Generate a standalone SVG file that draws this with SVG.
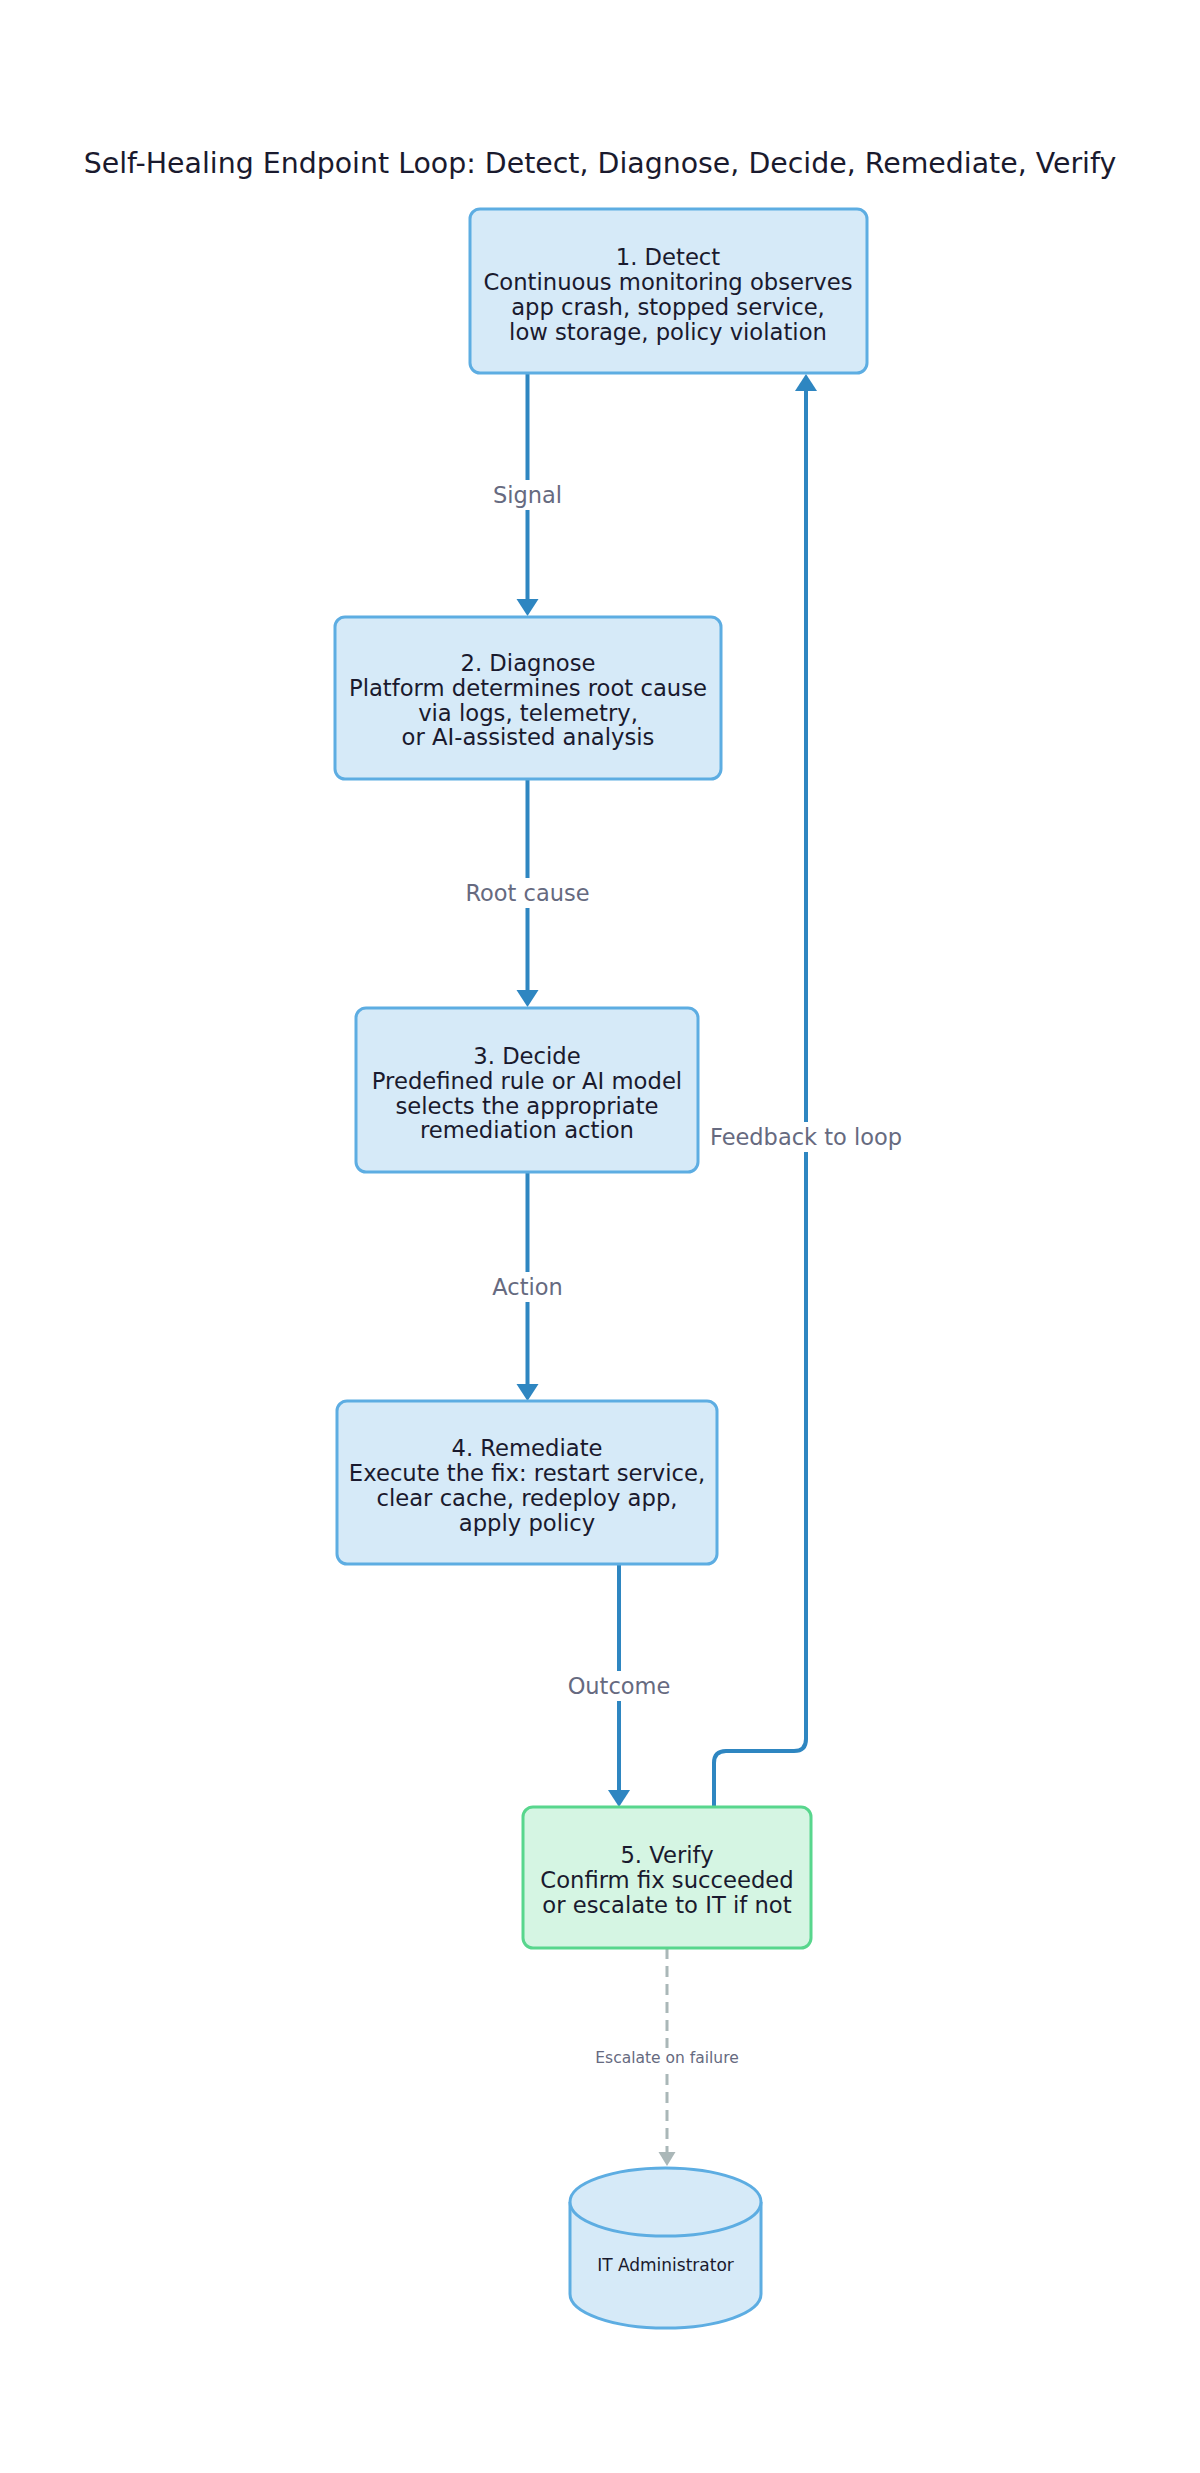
<svg xmlns="http://www.w3.org/2000/svg" width="1200" height="2473" viewBox="0 0 1200 2473">
<style>
text{font-family:"DejaVu Sans","Liberation Sans",sans-serif;text-anchor:middle;dominant-baseline:central}
.title{font-size:28.4px;fill:#1a1a2e}
.node{fill:#d6eaf8;stroke:#5dade2;stroke-width:3}
.ok{fill:#d5f5e3;stroke:#58d68d;stroke-width:3}
.nt{font-size:22.7px;fill:#1a1a2e}
.sm{font-size:17px;fill:#1a1a2e}
.edge{fill:none;stroke:#2e86c1;stroke-width:4}
.dash{fill:none;stroke:#aab7b8;stroke-width:3;stroke-dasharray:11 7}
.lbl{font-size:22.5px;fill:#666a80}
.lbls{font-size:15.5px;fill:#666a80}
.bg{fill:#ffffff}
</style>
<defs>
<marker id="arr" markerUnits="userSpaceOnUse" markerWidth="18" markerHeight="22" refX="0" refY="11" orient="auto" overflow="visible">
<path d="M0,0 L17,11 L0,22 Z" fill="#2e86c1"/>
</marker>
<marker id="arrg" markerUnits="userSpaceOnUse" markerWidth="15" markerHeight="18" refX="0" refY="8.5" orient="auto" overflow="visible">
<path d="M0,0 L14,8.5 L0,17 Z" fill="#aab7b8"/>
</marker>
</defs>
<rect width="1200" height="2473" fill="#ffffff"/>
<text class="title" x="600" y="163">Self-Healing Endpoint Loop: Detect, Diagnose, Decide, Remediate, Verify</text>

<g id="connectors">
<path class="edge" d="M527.5,373 V599" marker-end="url(#arr)"/>
<rect class="bg" x="487" y="480" width="81" height="30"/>
<text class="lbl" x="527.5" y="495">Signal</text>

<path class="edge" d="M527.5,779 V990" marker-end="url(#arr)"/>
<rect class="bg" x="462" y="878" width="131" height="30"/>
<text class="lbl" x="527.5" y="893">Root cause</text>

<path class="edge" d="M527.5,1172 V1384" marker-end="url(#arr)"/>
<rect class="bg" x="488" y="1272" width="79" height="30"/>
<text class="lbl" x="527.5" y="1287">Action</text>

<path class="edge" d="M619,1564 V1790" marker-end="url(#arr)"/>
<rect class="bg" x="566" y="1671" width="106" height="30"/>
<text class="lbl" x="619" y="1686">Outcome</text>

<path class="edge" d="M714,1807 V1763 Q714,1751 726,1751 H794 Q806,1751 806,1739 V391" marker-end="url(#arr)"/>
<rect class="bg" x="706" y="1122" width="200" height="30"/>
<text class="lbl" x="806" y="1137">Feedback to loop</text>

<path class="dash" d="M667,1948 V2152" marker-end="url(#arrg)"/>
<rect class="bg" x="592" y="2048" width="150" height="20"/>
<text class="lbls" x="667" y="2058">Escalate on failure</text>
</g>

<g id="detect">
<rect class="node" x="470" y="209" width="397" height="164" rx="10"/>
<text class="nt" x="668" y="257">1. Detect</text>
<text class="nt" x="668" y="282">Continuous monitoring observes</text>
<text class="nt" x="668" y="307">app crash, stopped service,</text>
<text class="nt" x="668" y="332">low storage, policy violation</text>
</g>

<g id="diagnose">
<rect class="node" x="335" y="617" width="386" height="162" rx="10"/>
<text class="nt" x="528" y="663">2. Diagnose</text>
<text class="nt" x="528" y="688">Platform determines root cause</text>
<text class="nt" x="528" y="713">via logs, telemetry,</text>
<text class="nt" x="528" y="737">or AI-assisted analysis</text>
</g>

<g id="decide">
<rect class="node" x="356" y="1008" width="342" height="164" rx="10"/>
<text class="nt" x="527" y="1056">3. Decide</text>
<text class="nt" x="527" y="1081">Predefined rule or AI model</text>
<text class="nt" x="527" y="1106">selects the appropriate</text>
<text class="nt" x="527" y="1130">remediation action</text>
</g>

<g id="remediate">
<rect class="node" x="337" y="1401" width="380" height="163" rx="10"/>
<text class="nt" x="527" y="1448">4. Remediate</text>
<text class="nt" x="527" y="1473">Execute the fix: restart service,</text>
<text class="nt" x="527" y="1498">clear cache, redeploy app,</text>
<text class="nt" x="527" y="1523">apply policy</text>
</g>

<g id="verify">
<rect class="ok" x="523" y="1807" width="288" height="141" rx="10"/>
<text class="nt" x="667" y="1855">5. Verify</text>
<text class="nt" x="667" y="1880">Confirm fix succeeded</text>
<text class="nt" x="667" y="1905">or escalate to IT if not</text>
</g>

<g id="it-admin">
<path class="node" d="M570,2202 V2294 A95.5,34 0 0 0 761,2294 V2202 A95.5,34 0 0 0 570,2202 Z"/>
<path class="node" d="M570,2202 A95.5,34 0 0 0 761,2202" fill="none"/>
<text class="sm" x="665.5" y="2265">IT Administrator</text>
</g>
</svg>
